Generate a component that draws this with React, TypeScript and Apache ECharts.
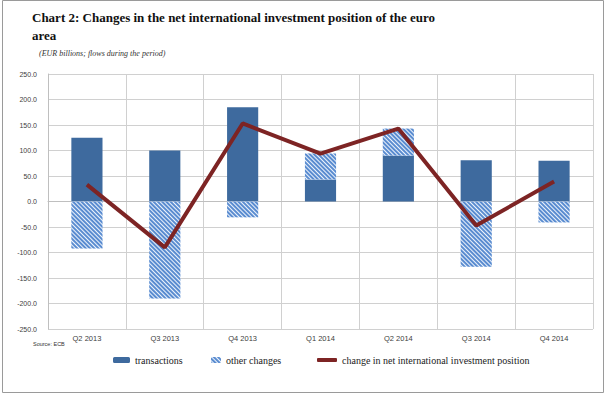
import React, { useEffect, useRef } from "react";
import * as echarts from "echarts";

const categories = ["Q2 2013", "Q3 2013", "Q4 2013", "Q1 2014", "Q2 2014", "Q3 2014", "Q4 2014"];
const transactions = [125, 100, 185, 43, 90, 81, 80];
const otherChanges = [-92, -190, -31, 51, 53, -128, -41];
const netChange = [33, -90, 153, 94, 143, -47, 39];

export default function App() {
  const ref = useRef<HTMLDivElement>(null);
  useEffect(() => {
    if (!ref.current) return;
    const chart = echarts.init(ref.current, undefined, { renderer: "svg" });
    const legendText = { fontFamily: "Liberation Serif", fontSize: 10, color: "#222" };
    chart.setOption({
      animation: false,
      backgroundColor: "#fff",
      title: [
        {
          text: "Chart 2: Changes in the net international investment position of the euro\narea",
          left: 32,
          top: 8,
          padding: 0,
          textStyle: { fontFamily: "Liberation Serif", fontWeight: "bold", fontSize: 13, lineHeight: 18, color: "#111" },
        },
        {
          text: "(EUR billions; flows during the period)",
          left: 39,
          top: 49,
          padding: 0,
          textStyle: { fontFamily: "Liberation Serif", fontStyle: "italic", fontWeight: "normal", fontSize: 8, color: "#333" },
        },
        {
          text: "Source: ECB",
          left: 33,
          top: 341,
          padding: 0,
          textStyle: { fontFamily: "Liberation Sans", fontWeight: "normal", fontSize: 5.5, color: "#333" },
        },
      ],
      graphic: [
        {
          type: "rect",
          shape: { x: 2.5, y: 0.5, width: 601, height: 392 },
          style: { fill: "none", stroke: "#9a9a9a", lineWidth: 1 },
          silent: true,
        },
      ],
      legend: [
        {
          data: ["transactions"],
          left: 113,
          top: 355,
          padding: 0,
          itemWidth: 17,
          itemHeight: 6,
          textStyle: legendText,
        },
        {
          data: ["other changes"],
          left: 211,
          top: 355,
          padding: 0,
          itemWidth: 10,
          itemHeight: 6,
          textStyle: legendText,
        },
        {
          data: [{ name: "change in net international investment position", icon: "roundRect" }],
          left: 317,
          top: 355,
          padding: 0,
          itemWidth: 20,
          itemHeight: 4,
          textStyle: legendText,
        },
      ],
      grid: { left: 48, right: 13, top: 74, bottom: 67 },
      xAxis: {
        type: "category",
        data: categories,
        axisLine: { lineStyle: { color: "#bfbfbf" } },
        axisTick: { show: false },
        axisLabel: { fontFamily: "Liberation Sans", fontSize: 7.5, color: "#404040", margin: 5 },
        splitLine: { show: true, lineStyle: { color: "#d0d0d0" } },
      },
      yAxis: {
        type: "value",
        min: -250,
        max: 250,
        interval: 50,
        axisLine: { show: true, lineStyle: { color: "#bfbfbf" } },
        axisTick: { show: false },
        axisLabel: {
          fontFamily: "Liberation Sans",
          fontSize: 7,
          color: "#404040",
          margin: 11,
          formatter: (v: number) => v.toFixed(1),
        },
        splitLine: { lineStyle: { color: "#d0d0d0" } },
      },
      series: [
        {
          name: "transactions",
          type: "bar",
          stack: "a",
          data: transactions,
          barWidth: "40%",
          itemStyle: { color: "#3e6a9e" },
        },
        {
          name: "other changes",
          type: "bar",
          stack: "a",
          data: otherChanges,
          barWidth: "40%",
          itemStyle: {
            color: "#eef4fc",
            decal: {
              symbol: "rect",
              symbolSize: 1,
              color: "#5a8cd0",
              dashArrayX: [1, 0],
              dashArrayY: [1.1, 1],
              rotation: Math.PI / 4,
            },
          },
        },
        {
          name: "change in net international investment position",
          type: "line",
          data: netChange,
          symbol: "none",
          lineStyle: { color: "#7d2424", width: 4 },
          itemStyle: { color: "#7d2424" },
        },
      ],
    });
    return () => chart.dispose();
  }, []);
  return <div ref={ref} style={{ position: "fixed", left: 0, top: 0, width: 606, height: 396 }} />;
}
